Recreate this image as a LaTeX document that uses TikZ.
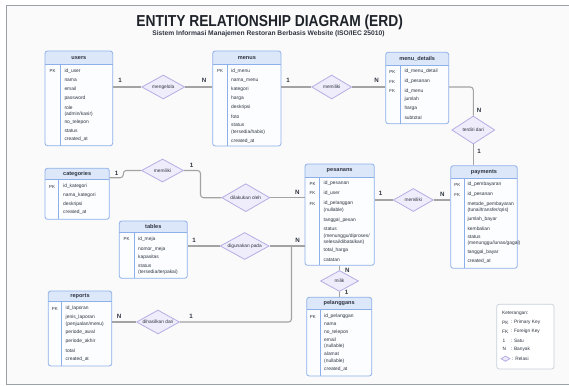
\documentclass[tikz,border=0pt]{standalone}
\usepackage{fontspec}
\setmainfont{Liberation Sans}
\usetikzlibrary{shapes.geometric,fit}
\definecolor{txt}{HTML}{2E3440}
\definecolor{titlec}{HTML}{1E2229}
\definecolor{hdrfill}{HTML}{DCE8FA}
\definecolor{bodyfill}{HTML}{FBFDFF}
\definecolor{entline}{HTML}{8DB0EA}
\definecolor{relfill}{HTML}{EFECFB}
\definecolor{relline}{HTML}{B5AEE4}
\definecolor{connc}{HTML}{A3A3A3}
\definecolor{framec}{HTML}{9AA0A8}
\definecolor{legline}{HTML}{C9CFDA}
\newcommand{\erdent}[8]{%
  \begin{scope}
    \clip[rounded corners=2.5] (#2,#3) rectangle (#4,#5);
    \fill[bodyfill] (#2,#3) rectangle (#4,#5);
    \fill[hdrfill] (#2,#3) rectangle (#4,#6);
  \end{scope}
  \draw[entsep] (#2,#6) -- (#4,#6);
  \draw[entsep] (#7,#6) -- (#7,#5);
  \node[entframe, fit={(#2,#3) (#4,#5)}] (#1) {};
  \node[enttitle] (#1-title) at ({(#2+#4)/2},{(#3+#6)/2}) {#8};
}
\tikzset{
  entsep/.style={draw=entline, line width=0.6},
  entframe/.style={draw=entline, line width=0.8, rounded corners=2.5, inner sep=0},
  enttitle/.style={inner sep=0, font=\bfseries\fontsize{5.6}{6}\selectfont, text=txt},
  attr/.style={anchor=west, inner sep=0, font=\fontsize{4.9}{6.3}\selectfont, text=txt, align=left},
  keyt/.style={inner sep=0, font=\fontsize{4.4}{5}\selectfont, text=txt},
  rel/.style={diamond, draw=relline, fill=relfill, line width=0.8, inner sep=0, aspect=1.8,
     font=\fontsize{4.8}{5}\selectfont, text=txt, align=center},
  card/.style={inner sep=0, font=\bfseries\fontsize{6.2}{7}\selectfont, text=txt},
  conn/.style={draw=connc, line width=1.1},
  legt/.style={anchor=west, inner sep=0, font=\fontsize{4.8}{5}\selectfont, text=txt},
}
\begin{document}
\begin{tikzpicture}[x=1pt,y=-1pt]
\useasboundingbox (0,0) rectangle (569,385);
\fill[white] (0,0) rectangle (569,385);
\fill[white!98!black] (6,6) rectangle (569,384);
\draw[framec, line width=1] (575,6) -- (6,6) -- (6,384) -- (575,384);

% title
\node[inner sep=0, text=titlec, font=\bfseries\fontsize{13.8}{15}\selectfont] (title) at (269.7,22.7) {\scalebox{1}[1.15]{ENTITY RELATIONSHIP DIAGRAM (ERD)}};
\node[inner sep=0, text=txt, font=\bfseries\fontsize{6.7}{8}\selectfont] (subtitle) at (268.5,34) {Sistem Informasi Manajemen Restoran Berbasis Website (ISO/IEC 25010)};

% relationship diamonds
\node[rel, minimum width=43, minimum height=24] (mengelola) at (163.3,87) {mengelola};
\node[rel, minimum width=40, minimum height=24] (memA) at (331.7,87) {memiliki};
\node[rel, minimum width=43, minimum height=28] (terdiri) at (473.3,130) {terdiri dari};
\node[rel, minimum width=40, minimum height=23] (memB) at (413.3,200) {memiliki};
\node[rel, minimum width=38, minimum height=21] (milik) at (339.5,281) {milik};
\node[rel, minimum width=42, minimum height=23] (memC) at (162.5,170.5) {memiliki};
\node[rel, minimum width=48, minimum height=28] (dilakukan) at (245.8,197.7) {dilakukan oleh};
\node[rel, minimum width=49, minimum height=27] (digunakan) at (244.7,246) {digunakan pada};
\node[rel, minimum width=43, minimum height=24] (dihasilkan) at (158,322) {dihasilkan dari};

% entities
\erdent{users}{45}{51}{112.7}{145.7}{64.3}{60}{users}
\node[keyt] (users-k1) at (52.5,71) {PK};
\node[attr] (users-r1) at (64.3,71) {id\_user};
\node[attr] (users-r2) at (64.3,80.3) {nama};
\node[attr] (users-r3) at (64.3,88.9) {email};
\node[attr] (users-r4) at (64.3,98.3) {password};
\node[attr] (users-r5) at (64.3,111) {role\\(admin/kasir)};
\node[attr] (users-r6) at (64.3,122.7) {no\_telepon};
\node[attr] (users-r7) at (64.3,131) {status};
\node[attr] (users-r8) at (64.3,139.7) {created\_at};

\erdent{menus}{212.7}{51}{281}{146}{64.3}{227.3}{menus}
\node[keyt] (menus-k1) at (220,71) {PK};
\node[attr] (menus-r1) at (231,71) {id\_menu};
\node[attr] (menus-r2) at (231,80.7) {nama\_menu};
\node[attr] (menus-r3) at (231,89) {kategori};
\node[attr] (menus-r4) at (231,98.3) {harga};
\node[attr] (menus-r5) at (231,107.3) {deskripsi};
\node[attr] (menus-r6) at (231,116.3) {foto};
\node[attr] (menus-r7) at (231,129) {status\\(tersedia/habis)};
\node[attr] (menus-r8) at (231,141) {created\_at};

\erdent{menud}{385.7}{52.3}{448.7}{123.7}{65.5}{400}{menu\_details}
\node[keyt] (menud-k1) at (392.3,71.7) {PK};
\node[keyt] (menud-k2) at (392.3,81.7) {FK};
\node[keyt] (menud-k3) at (392.3,91) {FK};
\node[attr] (menud-r1) at (404.3,71.7) {id\_menu\_detail};
\node[attr] (menud-r2) at (404.3,81.7) {id\_pesanan};
\node[attr] (menud-r3) at (404.3,91) {id\_menu};
\node[attr] (menud-r4) at (404.3,99.7) {jumlah};
\node[attr] (menud-r5) at (404.3,108.3) {harga};
\node[attr] (menud-r6) at (404.3,117.3) {subtotal};

\erdent{categories}{45}{168.3}{109.3}{219.3}{179.3}{58.3}{categories}
\node[keyt] (categories-k1) at (52,186.7) {PK};
\node[attr] (categories-r1) at (63,186.7) {id\_kategori};
\node[attr] (categories-r2) at (63,195) {nama\_kategori};
\node[attr] (categories-r3) at (63,204) {deskripsi};
\node[attr] (categories-r4) at (63,212.3) {created\_at};

\erdent{tables}{119.3}{221}{187.3}{278.3}{232.7}{134.3}{tables}
\node[keyt] (tables-k1) at (126.5,239.3) {PK};
\node[attr] (tables-r1) at (138,239.3) {id\_meja};
\node[attr] (tables-r2) at (138,249) {nomor\_meja};
\node[attr] (tables-r3) at (138,257.7) {kapasitas};
\node[attr] (tables-r4) at (138,269.2) {status\\(tersedia/terpakai)};

\erdent{reports}{48.3}{291}{111.7}{366}{301}{61.7}{reports}
\node[keyt] (reports-k1) at (54.8,308.7) {PK};
\node[attr] (reports-r1) at (65.5,308.7) {id\_laporan};
\node[attr] (reports-r2) at (65.5,320.6) {jenis\_laporan\\(penjualan/menu)};
\node[attr] (reports-r3) at (65.5,332.3) {periode\_awal};
\node[attr] (reports-r4) at (65.5,341.3) {periode\_akhir};
\node[attr] (reports-r5) at (65.5,350.3) {total};
\node[attr] (reports-r6) at (65.5,359) {created\_at};

\erdent{pesanans}{305}{164}{374.3}{265.3}{177}{319}{pesanans}
\node[keyt] (pesanans-k1) at (312.5,183.7) {PK};
\node[keyt] (pesanans-k2) at (312.5,193.3) {FK};
\node[keyt] (pesanans-k3) at (312.5,203.5) {FK};
\node[attr] (pesanans-r1) at (323.5,183.7) {id\_pesanan};
\node[attr] (pesanans-r2) at (323.5,193.3) {id\_user};
\node[attr] (pesanans-r3) at (323.5,206.8) {id\_pelanggan\\(nullable)};
\node[attr] (pesanans-r4) at (323.5,220) {tanggal\_pesan};
\node[attr] (pesanans-r5) at (323.5,236) {status\\(menunggu/diproses/\\selesai/dibatalkan)};
\node[attr] (pesanans-r6) at (323.5,250.3) {total\_harga};
\node[attr] (pesanans-r7) at (323.5,259.7) {catatan};

\erdent{payments}{450.7}{165.7}{517.3}{268.3}{178}{464}{payments}
\node[keyt] (payments-k1) at (457.3,184.7) {PK};
\node[keyt] (payments-k2) at (457.3,194.7) {FK};
\node[attr] (payments-r1) at (467.3,184.7) {id\_pembayaran};
\node[attr] (payments-r2) at (467.3,194.7) {id\_pesanan};
\node[attr] (payments-r3) at (467.3,207.2) {metode\_pembayaran\\(tunai/transfer/qris)};
\node[attr] (payments-r4) at (467.3,219.3) {jumlah\_bayar};
\node[attr] (payments-r5) at (467.3,228.3) {kembalian};
\node[attr] (payments-r6) at (467.3,240.5) {status\\(menunggu/lunas/gagal)};
\node[attr] (payments-r7) at (467.3,252) {tanggal\_bayar};
\node[attr] (payments-r8) at (467.3,261) {created\_at};

\erdent{pelanggans}{306.7}{297.3}{371.7}{376}{309.3}{320}{pelanggans}
\node[keyt] (pelanggans-k1) at (312.8,316.7) {PK};
\node[attr] (pelanggans-r1) at (324,316.7) {id\_pelanggan};
\node[attr] (pelanggans-r2) at (324,324.7) {nama};
\node[attr] (pelanggans-r3) at (324,332.3) {no\_telepon};
\node[attr] (pelanggans-r4) at (324,343.4) {email\\(nullable)};
\node[attr] (pelanggans-r5) at (324,357.8) {alamat\\(nullable)};
\node[attr] (pelanggans-r6) at (324,369.3) {created\_at};

% connectors
\coordinate (c1) at (123.3,177.7);
\coordinate (c2) at (200.5,170.5);
\coordinate (c3) at (291.5,322);
\begin{scope}[on background layer/.style={}]
\draw[conn] (users.east |- mengelola.west) -- (mengelola.west);
\draw[conn] (mengelola.east) -- (menus.west |- mengelola.east);
\draw[conn] (menus.east |- memA.west) -- (memA.west);
\draw[conn] (memA.east) -- (menud.west |- memA.east);
\draw[conn, rounded corners=3] (menud.east |- memA.east) -- (memA.east -| terdiri.north) -- (terdiri.north);
\draw[conn] (terdiri.south) -- (terdiri.south |- payments.north);
\draw[conn] (pesanans.east |- memB.west) -- (memB.west);
\draw[conn] (memB.east) -- (payments.west |- memB.east);
\draw[conn] (milik.north |- pesanans.south) -- (milik.north);
\draw[conn] (milik.south) -- (milik.south |- pelanggans.north);
\draw[conn, rounded corners=3] (categories.east |- c1) -- (c1) -- (c1 |- memC.west) -- (memC.west);
\draw[conn, rounded corners=3] (memC.east) -- (c2) -- (c2 |- dilakukan.west) -- (dilakukan.west);
\draw[conn] (dilakukan.east) -- (pesanans.west |- dilakukan.east);
\draw[conn] (tables.east |- digunakan.west) -- (digunakan.west);
\draw[conn] (digunakan.east) -- (pesanans.west |- digunakan.east);
\draw[conn] (reports.east |- dihasilkan.west) -- (dihasilkan.west);
\draw[conn, rounded corners=3] (dihasilkan.east) -- (c3) -- (c3 |- digunakan.east);
\end{scope}

% cardinalities
\node[card] (n1) at (120,80) {1};
\node[card] (n2) at (204,80) {N};
\node[card] (n3) at (288,80) {1};
\node[card] (n4) at (376.7,80) {N};
\node[card] (n5) at (479,110) {N};
\node[card] (n6) at (479,151) {1};
\node[card] (n7) at (116.7,173.5) {1};
\node[card] (n8) at (191.7,165) {1};
\node[card] (n9) at (297.3,192.3) {N};
\node[card] (n10) at (380.7,193.3) {1};
\node[card] (n11) at (442.3,194) {N};
\node[card] (n12) at (194,240) {1};
\node[card] (n13) at (297.7,240.7) {N};
\node[card] (n14) at (347.3,270) {N};
\node[card] (n15) at (346.7,292.7) {1};
\node[card] (n16) at (119,316.7) {N};
\node[card] (n17) at (191,316.7) {1};

% legend
\node[draw=legline, fill=white, line width=0.7, rounded corners=2.5, inner sep=0, fit={(496.7,304.3) (554,369)}] (legend) {};
\node[legt] (leg0) at (502,313.3) {Keterangan:};
\node[legt] (leg1k) at (502,322.7) {PK};
\node[legt] (leg1v) at (510.7,322.7) {: Primary Key};
\node[legt] (leg2k) at (502,331.7) {FK};
\node[legt] (leg2v) at (510.7,331.7) {: Foreign Key};
\node[legt] (leg3k) at (502.5,340.7) {1};
\node[legt] (leg3v) at (510.7,340.7) {: Satu};
\node[legt] (leg4k) at (502.3,349.3) {N};
\node[legt] (leg4v) at (510.7,349.3) {: Banyak};
\node[rel, minimum width=9, minimum height=5.5] (leg5k) at (505.5,358.7) {};
\node[legt] (leg5v) at (512,358.7) {: Relasi};
\end{tikzpicture}
\end{document}
